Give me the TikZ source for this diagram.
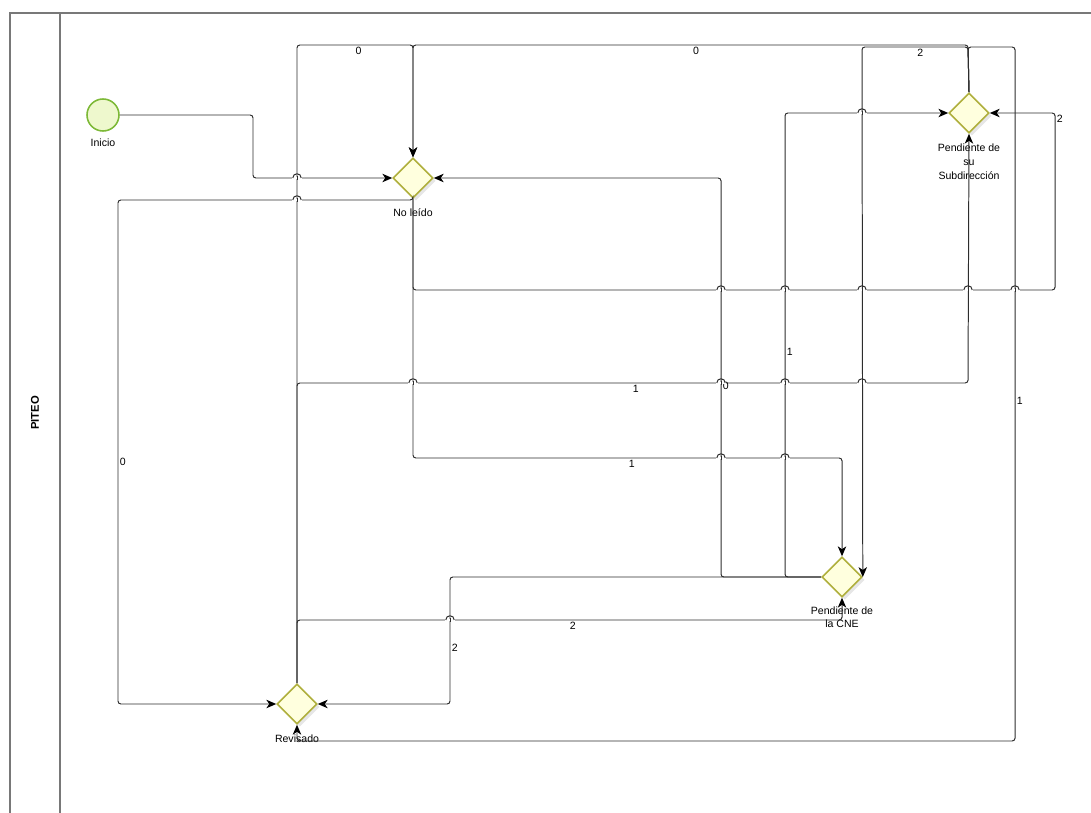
\documentclass[tikz,border=0pt]{standalone}
\usepackage{fontspec}
\setmainfont{Liberation Sans}
\usetikzlibrary{shapes.geometric, arrows.meta, calc, shadows}
\definecolor{linegray}{RGB}{45,45,45}
\definecolor{poolgray}{RGB}{120,120,120}
\definecolor{gwborder}{RGB}{175,175,60}
\definecolor{gwfill}{RGB}{255,255,222}
\definecolor{evborder}{RGB}{125,185,55}
\definecolor{evfill}{RGB}{238,248,205}
\tikzstyle{gateway} = [diamond, draw=gwborder, fill=gwfill, line width=1.1pt, minimum size=1cm, inner sep=0pt, drop shadow={opacity=0.2, shadow xshift=2pt, shadow yshift=-2pt}]
\tikzstyle{startev} = [circle, draw=evborder, fill=evfill, line width=1.1pt, minimum size=0.8cm, inner sep=0pt]
\tikzstyle{lbl} = [font=\fontsize{7.5}{9.8}\selectfont, inner sep=1pt, align=center]
\tikzstyle{line} = [draw=linegray, line width=0.7pt, rounded corners=2pt]
\tikzstyle{flow} = [line, -{Stealth[length=7pt, width=6pt, inset=2pt, color=black]}]
% little jump where a connector crosses another one
\newcommand{\hop}[2]{%
  \fill[white] ($(#1,#2)+(-3.5pt,-0.9pt)$) rectangle ($(#1,#2)+(3.5pt,0.9pt)$);
  \path[line] ($(#1,#2)+(0,-1.2pt)$) -- ($(#1,#2)+(0,1.2pt)$);
  \path[line] ($(#1,#2)+(-3pt,0)$) .. controls ($(#1,#2)+(-3pt,4pt)$) and ($(#1,#2)+(3pt,4pt)$) .. ($(#1,#2)+(3pt,0)$);
}

\begin{document}
\begin{tikzpicture}[x=0.025cm, y=-0.025cm]
        \useasboundingbox (0,0) rectangle (1091,813);
        % Pool
        \draw[poolgray, line width=0.9pt] (10,813) -- (10,13) -- (1091,13);
        \draw[poolgray, line width=0.9pt] (60,13) -- (60,813);
        \node[lbl, rotate=90, font=\bfseries\fontsize{8}{9}\selectfont] (lane) at (35,413) {PITEO};

        % Nodes
        \node[startev, label={[lbl, label distance=4pt]below:Inicio}] (inicio) at (103,115) {};
        \node[gateway, label={[lbl, label distance=6pt]below:No leído}] (noleido) at (413,178) {};
        \node[gateway, label={[lbl, label distance=6pt]below:{Pendiente de\\su\\Subdirección}}] (subdir) at (969,113) {};
        \node[gateway, label={[lbl, label distance=5pt]below:{Pendiente de\\la CNE}}] (cne) at (842,577) {};
        \node[gateway, label={[lbl, label distance=6pt]below:Revisado}] (revisado) at (297,704) {};

        % Edges
        \path[flow] (inicio.east) -- (253,115) -- (253,178) -- (noleido.west);
        \path[flow] (noleido.south) -- (413,200) -- (118,200) -- node[lbl, right, pos=0.52] {0} (118,704) -- (revisado.west);
        \path[flow] (noleido.south) -- (413,458) -- node[lbl, below, pos=0.51] {1} (842,458) -- (cne.north);
        \path[flow] (noleido.south) -- (413,290) -- (1055,290) -- (1055,113) node[lbl, anchor=north west] {2} -- (subdir.east);
        \path[flow] (revisado.north) -- (297,45) -- node[lbl, below, pos=0.53] {0} (413,45) -- (noleido.north);
        \path[flow] (revisado.north) -- (297,383) -- node[lbl, below, pos=0.505] {1} (968,383) -- (subdir.south);
        \path[flow] (revisado.north) -- (297,620) -- node[lbl, below, pos=0.506] {2} (842,620) -- (cne.south);
        \path[flow] (subdir.north) -- (968,45) -- node[lbl, below, pos=0.49] {0} (413,45) -- (noleido.north);
        \path[flow] (subdir.north) -- (968,47) -- node[lbl, below, pos=0.45] {2} (862,47) -- (cne.east);
        \path[flow] (subdir.north) -- (968,47) -- (1015,47) -- node[lbl, right, pos=0.51] {1} (1015,741) -- (297,741) -- (revisado.south);
        \path[flow] (cne.west) -- (721,577) -- node[lbl, right, pos=0.48] {0} (721,178) -- (noleido.east);
        \path[flow] (cne.west) -- (785,577) -- node[lbl, right, pos=0.485] {1} (785,113) -- (subdir.west);
        \path[flow] (cne.west) -- (450,577) -- node[lbl, right, pos=0.56] {2} (450,704) -- (revisado.east);

        % Jumps
        \foreach \hx/\hy in {297/178, 297/200, 862/113, 721/290, 785/290, 862/290, 968/290, 1015/290, 413/383, 721/383, 785/383, 862/383, 721/458, 785/458, 450/620}
          {\hop{\hx}{\hy}}
\end{tikzpicture}
\end{document}
